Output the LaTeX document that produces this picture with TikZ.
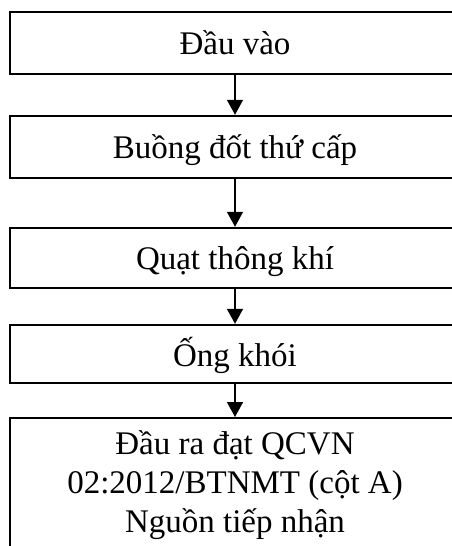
\documentclass[tikz,border=0pt]{standalone}
\usepackage{fontspec}
\setmainfont{Liberation Serif}
\usetikzlibrary{arrows.meta}
\begin{document}
\begin{tikzpicture}[x=1pt,y=1pt,
  box/.style={draw, line width=2.4pt, minimum width=450pt, inner sep=0pt,
    text height=28pt, text depth=6pt, font=\fontsize{33}{39}\selectfont},
  txt/.style={inner sep=0pt, anchor=base, font=\fontsize{33}{39}\selectfont},
  arr/.style={line width=1.6pt, -{Triangle[length=15pt,width=16pt]}}]
\useasboundingbox (0,0) rectangle (452,-546);
\node[box, minimum height=62pt] (b1) at (235,-43) {Đầu vào};
\node[box, minimum height=62pt] (b2) at (235,-147) {Buồng đốt thứ cấp};
\node[box, minimum height=60pt] (b3) at (235,-258) {Quạt thông khí};
\node[box, minimum height=58pt, text height=29pt, text depth=4pt] (b4) at (235,-354) {Ống khói};
\node[draw, line width=2.4pt, minimum width=450pt, minimum height=160pt, inner sep=0pt, anchor=north] (b5) at (235,-417) {};
\node[txt] (t1) at (235,-454) {Đầu ra đạt QCVN};
\node[txt] (t2) at (235,-493) {02:2012/BTNMT (cột A)};
\node[txt] (t3) at (235,-532) {Nguồn tiếp nhận};
\draw[arr] (b1) -- (b2);
\draw[arr] (b2) -- (b3);
\draw[arr] (b3) -- (b4);
\draw[arr] (b4) -- (b5);
\end{tikzpicture}
\end{document}
